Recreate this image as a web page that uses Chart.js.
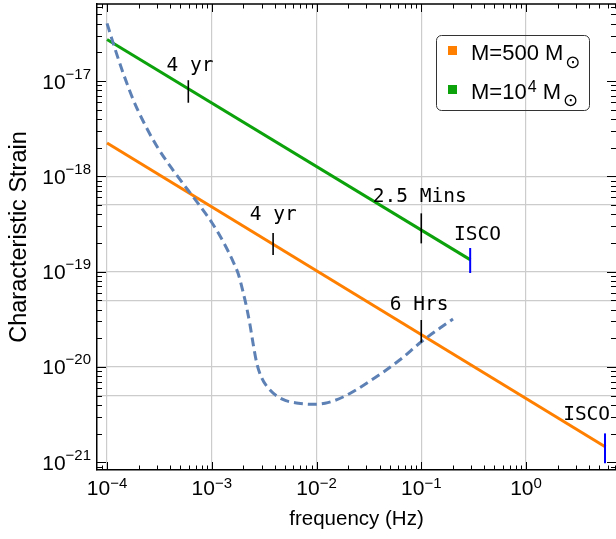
<!DOCTYPE html>
<html>
<head>
<meta charset="utf-8" />
<title>Characteristic Strain</title>
<style>
  html, body { margin: 0; padding: 0; background: #fff; }
  #wrap { width: 616px; height: 539px; }
</style>
</head>
<body>
<div id="wrap"><canvas id="strain" width="616" height="539"></canvas></div>

<script src="https://cdn.jsdelivr.net/npm/chart.js@4.4.1/dist/chart.umd.min.js"></script>
<script>
// axis ranges, grid and tick labels
var xMin = 8.02e-5, xMax = 7.23;
var yMin = 8.3e-22, yMax = 6.43e-17;
var xGrid = [1e-4, 1e-3, 1e-2, 1e-1, 1];
var yGrid = [5e-21, 1e-20, 5e-20, 1e-19, 5e-19, 1e-18];
var xLabelVals = [1e-4, 1e-3, 1e-2, 1e-1, 1];
var xLabelExp = ['\u22124', '\u22123', '\u22122', '\u22121', '0'];
var yLabelVals = [1e-21, 1e-20, 1e-19, 1e-18, 1e-17];
var yLabelExp = ['\u221221', '\u221220', '\u221219', '\u221218', '\u221217'];

// inspiral tracks (straight in log-log, start and ISCO end)
var freq500 = [1e-4, 5.75];
var strain500 = [2.24e-18, 1.45e-21];
var freq1e4 = [1e-4, 0.295];
var strain1e4 = [2.73e-17, 1.33e-19];

// detector sensitivity (dashed)
var noiseFreq = [1.0e-4, 1.148e-4, 1.430e-4, 1.783e-4, 2.221e-4, 2.981e-4, 4.294e-4, 5.97e-4,
  7.725e-4, 1.0e-3, 1.289e-3, 1.606e-3, 1.792e-3, 2.001e-3, 2.157e-3, 2.318e-3, 2.493e-3,
  2.686e-3, 2.998e-3, 3.598e-3, 4.655e-3, 6.70e-3, 9.68e-3, 1.205e-2, 1.791e-2, 3.034e-2,
  6.266e-2, 9.954e-2, 0.151, 0.2009];
var noiseStrain = [4.03e-17, 2.47e-17, 1.20e-17, 6.32e-18, 3.76e-18, 2.08e-18, 1.151e-18, 7.10e-19,
  4.88e-19, 3.28e-19, 2.05e-19, 1.26e-19, 9.44e-20, 5.97e-20, 4.16e-20, 2.76e-20, 1.70e-20,
  1.10e-20, 7.67e-21, 5.74e-21, 4.62e-21, 4.16e-21, 4.06e-21, 4.16e-21, 4.84e-21, 6.79e-21,
  1.19e-20, 1.83e-20, 2.56e-20, 3.19e-20];

// small vertical marks on the tracks
var markFreq = [5.97e-4, 3.85e-3, 0.1, 0.1, 0.293, 5.68];
var markLow = [5.92e-18, 1.50e-19, 1.98e-19, 1.80e-20, 9.68e-20, 9.77e-22];
var markHigh = [1.02e-17, 2.55e-19, 4.09e-19, 3.11e-20, 1.77e-19, 2.01e-21];
var markColor = ['#000', '#000', '#000', '#000', '#0000ff', '#0000ff'];

// annotation text
var noteText = ['4 yr', '4 yr', '2.5 Mins', '6 Hrs', 'ISCO', 'ISCO'];
var noteFreq = [6.19e-4, 3.86e-3, 0.0966, 0.0953, 0.344, 3.79];
var noteStrain = [1.27e-17, 3.48e-19, 5.38e-19, 3.96e-20, 2.15e-19, 2.78e-21];

var orange = '#ff8000';
var green = '#0ca20c';
var blue = '#5e81b5';

function pts(xs, ys) {
  var out = [];
  for (var i = 0; i < xs.length; i++) out.push({x: xs[i], y: ys[i]});
  return out;
}

var datasets = [];
for (var i = 0; i < markFreq.length; i++) {
  datasets.push({
    data: pts([markFreq[i], markFreq[i]], [markLow[i], markHigh[i]]),
    borderColor: markColor[i], borderWidth: markColor[i] == '#000' ? 1.6 : 2,
    pointRadius: 0, order: 0
  });
}
datasets.push({
  label: 'noise', data: pts(noiseFreq, noiseStrain), borderColor: blue, borderWidth: 3,
  borderDash: [9, 5], cubicInterpolationMode: 'monotone', pointRadius: 0, order: 1
});
datasets.push({
  label: 'M=500', data: pts(freq500, strain500), borderColor: orange, borderWidth: 3,
  pointRadius: 0, order: 2
});
datasets.push({
  label: 'M=1e4', data: pts(freq1e4, strain1e4), borderColor: green, borderWidth: 3,
  pointRadius: 0, order: 2
});

function seg(ctx, x1, y1, x2, y2) {
  ctx.beginPath(); ctx.moveTo(x1, y1); ctx.lineTo(x2, y2); ctx.stroke();
}

// 10^n label with a raised exponent
function drawPower(ctx, exp, x, y, align, raise) {
  ctx.font = '21px "Liberation Sans"';
  var wb = ctx.measureText('10').width;
  ctx.font = '15px "Liberation Sans"';
  var we = ctx.measureText(exp).width;
  var left = align == 'center' ? x - (wb + we) / 2 : x - wb - we;
  ctx.font = '21px "Liberation Sans"';
  ctx.fillText('10', left, y);
  ctx.font = '15px "Liberation Sans"';
  ctx.fillText(exp, left + wb, y - raise);
}

var framePlugin = {
  id: 'frame',
  afterDatasetsDraw: function(chart) {
    var ctx = chart.ctx, a = chart.chartArea;
    var xs = chart.scales.x, ys = chart.scales.y;
    ctx.save();
    // annotations
    ctx.fillStyle = '#000';
    ctx.font = '19.5px "DejaVu Sans Mono"';
    ctx.textAlign = 'center';
    ctx.textBaseline = 'alphabetic';
    for (var i = 0; i < noteText.length; i++) {
      ctx.fillText(noteText[i], xs.getPixelForValue(noteFreq[i]), ys.getPixelForValue(noteStrain[i]));
    }
    // top frame line
    ctx.strokeStyle = '#000';
    ctx.lineWidth = 1.3;
    seg(ctx, a.left, a.top, a.right, a.top);
    // inward ticks on all four sides
    ctx.lineWidth = 1;
    var d, k, v, p, len;
    for (d = -5; d <= 1; d++) {
      for (k = 1; k < 10; k++) {
        v = k * Math.pow(10, d);
        if (v < xs.min || v > xs.max) continue;
        p = Math.round(xs.getPixelForValue(v)) + 0.5;
        len = k == 1 ? 8 : 4.5;
        seg(ctx, p, a.bottom, p, a.bottom - len);
        seg(ctx, p, a.top, p, a.top + len);
      }
    }
    for (d = -23; d <= -16; d++) {
      for (k = 1; k < 10; k++) {
        v = k * Math.pow(10, d);
        if (v < ys.min || v > ys.max) continue;
        p = Math.round(ys.getPixelForValue(v)) + 0.5;
        len = k == 1 ? 9 : 5;
        seg(ctx, a.left, p, a.left + len, p);
        seg(ctx, a.right, p, a.right - len, p);
      }
    }
    ctx.restore();
  },
  afterDraw: function(chart) {
    var ctx = chart.ctx, a = chart.chartArea;
    var xs = chart.scales.x, ys = chart.scales.y;
    ctx.save();
    ctx.fillStyle = '#000';
    ctx.textAlign = 'left';
    ctx.textBaseline = 'alphabetic';
    for (var i = 0; i < xLabelVals.length; i++) {
      drawPower(ctx, xLabelExp[i], xs.getPixelForValue(xLabelVals[i]), a.bottom + 25, 'center', 7);
    }
    for (var j = 0; j < yLabelVals.length; j++) {
      drawPower(ctx, yLabelExp[j], a.left - 6, ys.getPixelForValue(yLabelVals[j]) + 7.5, 'right', 10);
    }

    // legend
    ctx.strokeStyle = '#333';
    ctx.lineWidth = 1;
    ctx.beginPath();
    ctx.roundRect(436.5, 35.5, 153, 75, 5);
    ctx.stroke();
    ctx.fillStyle = orange;
    ctx.fillRect(448, 46, 9, 9);
    ctx.fillStyle = green;
    ctx.fillRect(448, 85, 9, 9);

    ctx.fillStyle = '#000';
    var x0 = 471, w;
    ctx.font = '22px "Liberation Sans"';
    ctx.fillText('M=500 M', x0, 59.5);
    w = ctx.measureText('M=500 M').width;
    ctx.font = '18px "DejaVu Sans"';
    ctx.textBaseline = 'middle';
    ctx.fillText('\u2299', x0 + w + 2, 63);
    ctx.textBaseline = 'alphabetic';

    ctx.font = '22px "Liberation Sans"';
    ctx.fillText('M=10', x0, 98.5);
    w = ctx.measureText('M=10').width;
    ctx.font = '16px "Liberation Sans"';
    ctx.fillText('4', x0 + w + 1, 91.5);
    w += ctx.measureText('4').width + 1;
    ctx.font = '22px "Liberation Sans"';
    ctx.fillText(' M', x0 + w, 98.5);
    w += ctx.measureText(' M').width;
    ctx.font = '18px "DejaVu Sans"';
    ctx.textBaseline = 'middle';
    ctx.fillText('\u2299', x0 + w + 2, 101);
    ctx.restore();
  }
};

Chart.defaults.font.family = '"Liberation Sans", Arial, sans-serif';

new Chart(document.getElementById('strain'), {
  type: 'line',
  data: { datasets: datasets },
  options: {
    responsive: false,
    animation: false,
    devicePixelRatio: 1,
    layout: { padding: { top: 4, right: 0, left: 0, bottom: 0 } },
    plugins: { legend: { display: false }, tooltip: { enabled: false } },
    scales: {
      x: {
        type: 'logarithmic', position: 'bottom', min: xMin, max: xMax,
        afterBuildTicks: function(s) { s.ticks = xGrid.map(function(v) { return {value: v}; }); },
        afterFit: function(s) { s.height = 69; },
        ticks: { display: false },
        grid: { color: '#cccccc', lineWidth: 1.2, drawTicks: false },
        border: { display: true, color: '#000', width: 1.5 },
        title: { display: true, text: 'frequency (Hz)', color: '#000',
          font: { size: 20.5 }, padding: { top: 0, bottom: 7 } }
      },
      y: {
        type: 'logarithmic', position: 'left', min: yMin, max: yMax,
        afterBuildTicks: function(s) { s.ticks = yGrid.map(function(v) { return {value: v}; }); },
        afterFit: function(s) { s.width = 97; },
        ticks: { display: false },
        grid: { color: '#cccccc', lineWidth: 1.2, drawTicks: false },
        border: { display: true, color: '#000', width: 1.5 },
        title: { display: true, text: 'Characteristic Strain', color: '#000',
          font: { size: 23.5 }, padding: { top: 5, bottom: 0 } }
      }
    }
  },
  plugins: [framePlugin]
});
</script>
</body>
</html>
